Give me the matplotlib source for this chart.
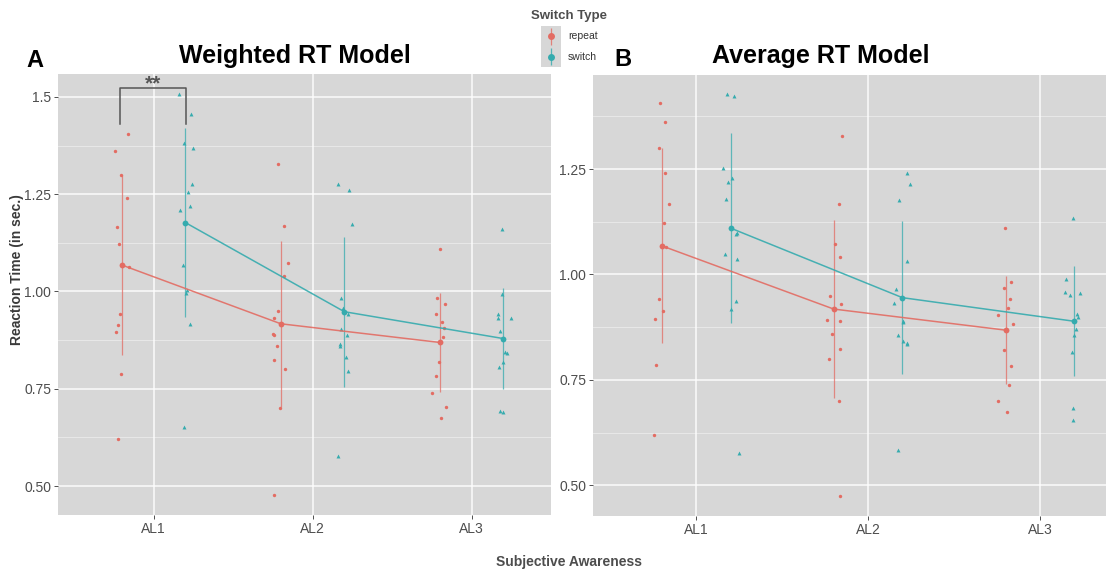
import matplotlib.pyplot as plt

plt.rcParams['font.family'] = ['Liberation Sans', 'DejaVu Sans']

LEVELS = ["AL1", "AL2", "AL3"]
DODGE = 0.2

RED = "#E36C63"
TEAL = "#35ABAE"
PANEL_BG = "#D7D7D7"
TEXT_GREY = "#4D4D4D"

# ---- Weighted RT model: per-participant RTs (x = jittered AL position) ----
A_REPEAT_X = [0.836, 0.754, 0.794, 0.834, 0.771, 0.780, 0.846, 0.788, 0.773, 0.765, 0.796, 0.775,
              1.785, 1.823, 1.844, 1.819, 1.783, 1.756, 1.753, 1.756, 1.778, 1.758, 1.827, 1.797, 1.756,
              2.803, 2.780, 2.834, 2.774, 2.814, 2.826, 2.820, 2.797, 2.774, 2.754, 2.841, 2.805]
A_REPEAT_Y = [1.405, 1.360, 1.299, 1.239, 1.166, 1.122, 1.062, 0.942, 0.914, 0.896, 0.787, 0.621,
              1.327, 1.168, 1.072, 1.041, 0.949, 0.931, 0.891, 0.888, 0.861, 0.824, 0.800, 0.700, 0.476,
              1.109, 0.983, 0.967, 0.942, 0.921, 0.905, 0.883, 0.820, 0.784, 0.738, 0.703, 0.676]
A_SWITCH_X = [1.159, 1.237, 1.189, 1.249, 1.243, 1.216, 1.231, 1.166, 1.183, 1.210, 1.201, 1.229, 1.189,
              2.161, 2.232, 2.251, 2.181, 2.194, 2.225, 2.180, 2.217, 2.171, 2.171, 2.211, 2.221, 2.159,
              3.190, 3.192, 3.169, 3.165, 3.248, 3.176, 3.210, 3.221, 3.196, 3.172, 3.178, 3.196]
A_SWITCH_Y = [1.507, 1.455, 1.381, 1.370, 1.277, 1.256, 1.219, 1.209, 1.068, 1.005, 0.996, 0.917, 0.651,
              1.277, 1.262, 1.173, 0.983, 0.957, 0.942, 0.904, 0.887, 0.866, 0.861, 0.832, 0.795, 0.577,
              1.161, 0.994, 0.943, 0.932, 0.932, 0.898, 0.844, 0.841, 0.820, 0.805, 0.694, 0.689]
A_REPEAT_MEAN = [1.068, 0.917, 0.869]
A_REPEAT_LO = [0.837, 0.703, 0.742]
A_REPEAT_HI = [1.299, 1.129, 0.996]
A_SWITCH_MEAN = [1.177, 0.948, 0.879]
A_SWITCH_LO = [0.935, 0.755, 0.750]
A_SWITCH_HI = [1.419, 1.140, 1.009]

# ---- Average RT model ----
B_REPEAT_X = [0.787, 0.816, 0.783, 0.818, 0.843, 0.814, 0.824, 0.783, 0.808, 0.759, 0.765, 0.754,
              1.847, 1.830, 1.806, 1.839, 1.777, 1.843, 1.760, 1.839, 1.789, 1.837, 1.775, 1.830, 1.837,
              2.795, 2.830, 2.789, 2.828, 2.814, 2.756, 2.845, 2.793, 2.831, 2.822, 2.754, 2.806]
B_REPEAT_Y = [1.407, 1.361, 1.299, 1.240, 1.168, 1.123, 1.064, 0.941, 0.914, 0.895, 0.785, 0.620,
              1.329, 1.168, 1.072, 1.041, 0.949, 0.931, 0.891, 0.890, 0.860, 0.824, 0.799, 0.699, 0.474,
              1.110, 0.983, 0.967, 0.941, 0.921, 0.904, 0.883, 0.820, 0.783, 0.737, 0.701, 0.675]
B_SWITCH_X = [1.182, 1.223, 1.159, 1.209, 1.184, 1.173, 1.233, 1.236, 1.169, 1.236, 1.229, 1.200, 1.250,
              2.229, 2.243, 2.180, 2.227, 2.163, 2.153, 2.202, 2.205, 2.173, 2.203, 2.225, 2.229, 2.176,
              3.190, 3.149, 3.147, 3.172, 3.234, 3.213, 3.223, 3.209, 3.200, 3.184, 3.190, 3.190]
B_SWITCH_Y = [1.429, 1.424, 1.253, 1.229, 1.220, 1.179, 1.096, 1.099, 1.049, 1.036, 0.936, 0.919, 0.576,
              1.240, 1.215, 1.177, 1.033, 0.965, 0.932, 0.887, 0.890, 0.856, 0.842, 0.838, 0.835, 0.584,
              1.135, 0.989, 0.959, 0.951, 0.955, 0.906, 0.899, 0.871, 0.856, 0.817, 0.683, 0.654]
B_REPEAT_MEAN = [1.068, 0.918, 0.868]
B_REPEAT_LO = [0.837, 0.706, 0.741]
B_REPEAT_HI = [1.301, 1.130, 0.997]
B_SWITCH_MEAN = [1.110, 0.945, 0.889]
B_SWITCH_LO = [0.886, 0.764, 0.760]
B_SWITCH_HI = [1.335, 1.127, 1.019]

# significance bracket between repeat/switch at AL1 (weighted model)
SIG_X = [0.788, 1.2015]
SIG_Y_LOW = 1.430
SIG_Y_TOP = 1.524
SIG_LABEL = "**"


def draw_panel(ax, rx, ry, sx, sy, rmean, rlo, rhi, smean, slo, shi,
               xlim, ylim, yticks, yticklabels):
    ax.set_facecolor(PANEL_BG)
    pos = list(range(1, len(LEVELS) + 1))
    rpos = [p - DODGE for p in pos]
    spos = [p + DODGE for p in pos]

    ax.scatter(rx, ry, s=6, marker="o", color=RED, linewidths=0, zorder=3)
    ax.scatter(sx, sy, s=8, marker="^", color=TEAL, linewidths=0, zorder=3)

    ax.vlines(rpos, rlo, rhi, color=RED, lw=0.9, alpha=0.75, zorder=4)
    ax.vlines(spos, slo, shi, color=TEAL, lw=0.9, alpha=0.75, zorder=4)

    ax.plot(rpos, rmean, color=RED, lw=1.1, alpha=0.9, zorder=5)
    ax.plot(spos, smean, color=TEAL, lw=1.1, alpha=0.9, zorder=5)
    ax.plot(rpos, rmean, "o", ms=4.2, color=RED, mew=0, zorder=6)
    ax.plot(spos, smean, "o", ms=4.2, color=TEAL, mew=0, zorder=6)

    ax.set_xlim(*xlim)
    ax.set_ylim(*ylim)
    ax.set_xticks(pos)
    ax.set_xticklabels(LEVELS)
    ax.set_yticks(yticks)
    ax.set_yticklabels(yticklabels)
    minor = [(a + b) / 2 for a, b in zip(yticks[:-1], yticks[1:])]
    minor = minor + [yticks[-1] + 0.125, yticks[0] - 0.125]
    ax.set_yticks([m for m in minor if ylim[0] < m < ylim[1]], minor=True)

    ax.grid(True, which="major", color="white", lw=1.1, alpha=0.9)
    ax.grid(True, which="minor", axis="y", color="white", lw=0.6, alpha=0.5)
    ax.set_axisbelow(True)
    ax.tick_params(which="major", length=3, width=0.6, color="#333333",
                   labelsize=10, labelcolor=TEXT_GREY, pad=2)
    ax.tick_params(which="minor", length=0)
    for sp in ax.spines.values():
        sp.set_visible(False)


fig = plt.figure(figsize=(11.07, 5.72), dpi=100)
W, H = 1107, 572

axA = fig.add_axes([58.3 / W, 1 - 515 / H, (551 - 58.3) / W, (515 - 74) / H])
draw_panel(axA, A_REPEAT_X, A_REPEAT_Y, A_SWITCH_X, A_SWITCH_Y,
           A_REPEAT_MEAN, A_REPEAT_LO, A_REPEAT_HI,
           A_SWITCH_MEAN, A_SWITCH_LO, A_SWITCH_HI,
           (0.4, 3.5), (0.4255, 1.559),
           [0.50, 0.75, 1.00, 1.25, 1.50], ["0.50", "0.75", "1.00", "1.25", "1.5"])

# bracket + stars
axA.plot([SIG_X[0], SIG_X[0], SIG_X[1], SIG_X[1]],
         [SIG_Y_LOW, SIG_Y_TOP, SIG_Y_TOP, SIG_Y_LOW], color="#555555", lw=1.1, zorder=7)
axA.text(sum(SIG_X) / 2, SIG_Y_TOP - 0.014, SIG_LABEL, ha="center", va="bottom",
         fontsize=15, fontweight="bold", color="#555555", zorder=7)

axB = fig.add_axes([593 / W, 1 - 515.7 / H, (1106 - 593) / W, (515.7 - 75) / H])
draw_panel(axB, B_REPEAT_X, B_REPEAT_Y, B_SWITCH_X, B_SWITCH_Y,
           B_REPEAT_MEAN, B_REPEAT_LO, B_REPEAT_HI,
           B_SWITCH_MEAN, B_SWITCH_LO, B_SWITCH_HI,
           (0.4, 3.384), (0.428, 1.473),
           [0.50, 0.75, 1.00, 1.25], ["0.50", "0.75", "1.00", "1.25"])

# panel letters and titles
fig.text(26.7 / W, 1 - 66.7 / H, "A", fontsize=17, fontweight="bold", va="baseline")
fig.text(614 / W, 1 - 65.7 / H, "B", fontsize=17, fontweight="bold", va="baseline")
fig.text(295 / W, 1 - 63.3 / H, "Weighted RT Model", fontsize=18, fontweight="bold",
         ha="center", va="baseline")
fig.text(820.5 / W, 1 - 63.3 / H, "Average RT Model", fontsize=18, fontweight="bold",
         ha="center", va="baseline")

# shared axis labels
fig.text(17.5 / W, 1 - 270 / H, "Reaction Time (in sec.)", rotation=90, fontsize=10,
         fontweight="bold", color="#3A3A3A", ha="center", va="center")
fig.text(569 / W, 1 - 562 / H, "Subjective Awareness", fontsize=10, fontweight="bold",
         color=TEXT_GREY, ha="center", va="center")

# legend
fig.text(569 / W, 1 - 15.5 / H, "Switch Type", fontsize=9.5, fontweight="bold",
         color=TEXT_GREY, ha="center", va="center")
lax = fig.add_axes([541 / W, 1 - 67 / H, 20 / W, 41 / H])
lax.set_facecolor(PANEL_BG)
lax.set_xlim(0, 1)
lax.set_ylim(0, 2)
lax.set_xticks([])
lax.set_yticks([])
for sp in lax.spines.values():
    sp.set_visible(False)
for yk, col, lab in [(1.5, RED, "repeat"), (0.5, TEAL, "switch")]:
    lax.vlines(0.5, yk - 0.42, yk + 0.42, color=col, lw=0.9, alpha=0.8)
    lax.plot(0.5, yk, "o", ms=5, color=col, mew=0)
    lax.text(1.35, yk, lab, fontsize=7.5, color="#333333", va="center", ha="left",
             clip_on=False)

fig.savefig("out.png", dpi=100)
